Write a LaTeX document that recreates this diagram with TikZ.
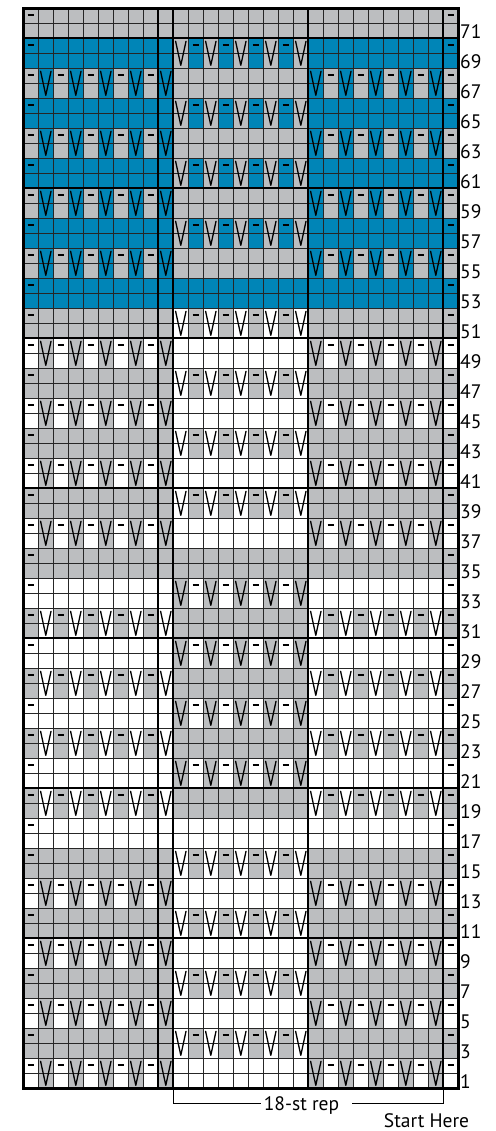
\documentclass[tikz,border=0pt]{standalone}
\usepackage{fontspec}
\setmainfont{PT Sans}
\definecolor{gry}{RGB}{188,190,192}
\definecolor{blu}{RGB}{0,133,183}
\definecolor{wht}{RGB}{255,255,255}
\tikzset{
  thingrid/.style={line width=0.8pt, draw=black!85},
  thickgrid/.style={line width=2pt, draw=black},
  vsym/.style={line width=1.3pt, line join=round, line cap=round},
  dsym/.style={line width=2.2pt},
  lbl/.style={font=\fontsize{19.5}{19.5}\selectfont, inner sep=0pt},
  brk/.style={line width=1.5pt},
}
\begin{document}
\begin{tikzpicture}[x=1pt,y=-1pt]
\useasboundingbox (0,0) rectangle (495,1131);
\def\pairs{1/wht/L/gry, 2/gry/M/wht, 3/wht/L/gry, 4/gry/M/wht, 5/wht/L/gry, 6/gry/M/wht,
7/wht/L/gry, 8/gry/M/wht, 9/wht/N/gry, 10/gry/L/wht, 11/wht/M/gry, 12/gry/L/wht,
13/wht/M/gry, 14/gry/L/wht, 15/wht/M/gry, 16/gry/L/wht, 17/wht/M/gry, 18/gry/N/wht,
19/wht/L/gry, 20/gry/M/wht, 21/wht/L/gry, 22/gry/M/wht, 23/wht/L/gry, 24/gry/M/wht,
25/wht/L/gry, 26/gry/M/wht, 27/blu/N/gry, 28/gry/L/blu, 29/blu/M/gry, 30/gry/L/blu,
31/blu/M/gry, 32/gry/L/blu, 33/blu/M/gry, 34/gry/L/blu, 35/blu/M/gry, 36/gry/N/blu}
% fills
\foreach \pp/\pc/\pa/\pv in \pairs {
  \pgfmathsetmacro\yt{1088.3-30*\pp}
  \fill[\pc] (23.3,\yt) rectangle (458.3,\yt+30);
  \if\pa L
    \foreach \k in {2,4,6,8,10,20,22,24,26,28}
      \fill[\pv] ({23.3+15*(\k-1)},\yt) rectangle +(15,30);
  \fi
  \if\pa M
    \foreach \k in {11,13,15,17,19}
      \fill[\pv] ({23.3+15*(\k-1)},\yt) rectangle +(15,30);
  \fi
}
% grid
\foreach \i in {0,...,29}
  \draw[thingrid] ({23.3+15*\i},8.3) -- ({23.3+15*\i},1088.3);
\foreach \j in {0,...,72}
  \draw[thingrid] (23.3,{8.3+15*\j}) -- (458.3,{8.3+15*\j});
\foreach \i in {9,10,19,28}
  \draw[thickgrid] ({23.3+15*\i},8.3) -- ({23.3+15*\i},1088.3);
\foreach \k in {1,...,7}
  \draw[thickgrid] (23.3,{1088.3-150*\k}) -- (458.3,{1088.3-150*\k});
\draw[line width=2.5pt] (23.3,8.3) rectangle (458.3,1088.3);
% symbols
\foreach \pp/\pc/\pa/\pv in \pairs {
  \pgfmathsetmacro\yt{1088.3-30*\pp}
  \foreach \k in {1,29}
    \draw[dsym] ({23.3+15*(\k-1)+4.3},\yt+7) -- +(6.4,0);
  \if\pa L
    \foreach \k in {2,4,6,8,10,20,22,24,26,28}
      \draw[vsym] ({23.3+15*(\k-1)+2.3},\yt+3) -- +(5.2,24) -- +(10.4,0);
    \foreach \k in {3,5,7,9,21,23,25,27}
      \draw[dsym] ({23.3+15*(\k-1)+4.3},\yt+7) -- +(6.4,0);
  \fi
  \if\pa M
    \foreach \k in {11,13,15,17,19}
      \draw[vsym] ({23.3+15*(\k-1)+2.3},\yt+3) -- +(5.2,24) -- +(10.4,0);
    \foreach \k in {12,14,16,18}
      \draw[dsym] ({23.3+15*(\k-1)+4.3},\yt+7) -- +(6.4,0);
  \fi
}
% row labels
\foreach \r in {1,3,...,71}
  \node[lbl, anchor=base west] (lab\r) at (460,{1088.3-15*\r+7.5+7.5}) {\r};
% bracket
\coordinate (bl0) at (173.3,1088.3);
\coordinate (br0) at (443.3,1088.3);
\coordinate (hl) at (0,1103.3);
\node[lbl, anchor=base, inner xsep=3pt] (rep) at (301.5,1110.5) {18-st rep};
\coordinate (rr) at ([xshift=10pt]rep.east);
\node[lbl, anchor=base] (start) at (426.5,1127) {Start Here};
\draw[brk] (bl0) |- (rep.west |- hl);
\draw[brk] (br0) |- (rr |- hl);
\end{tikzpicture}
\end{document}
